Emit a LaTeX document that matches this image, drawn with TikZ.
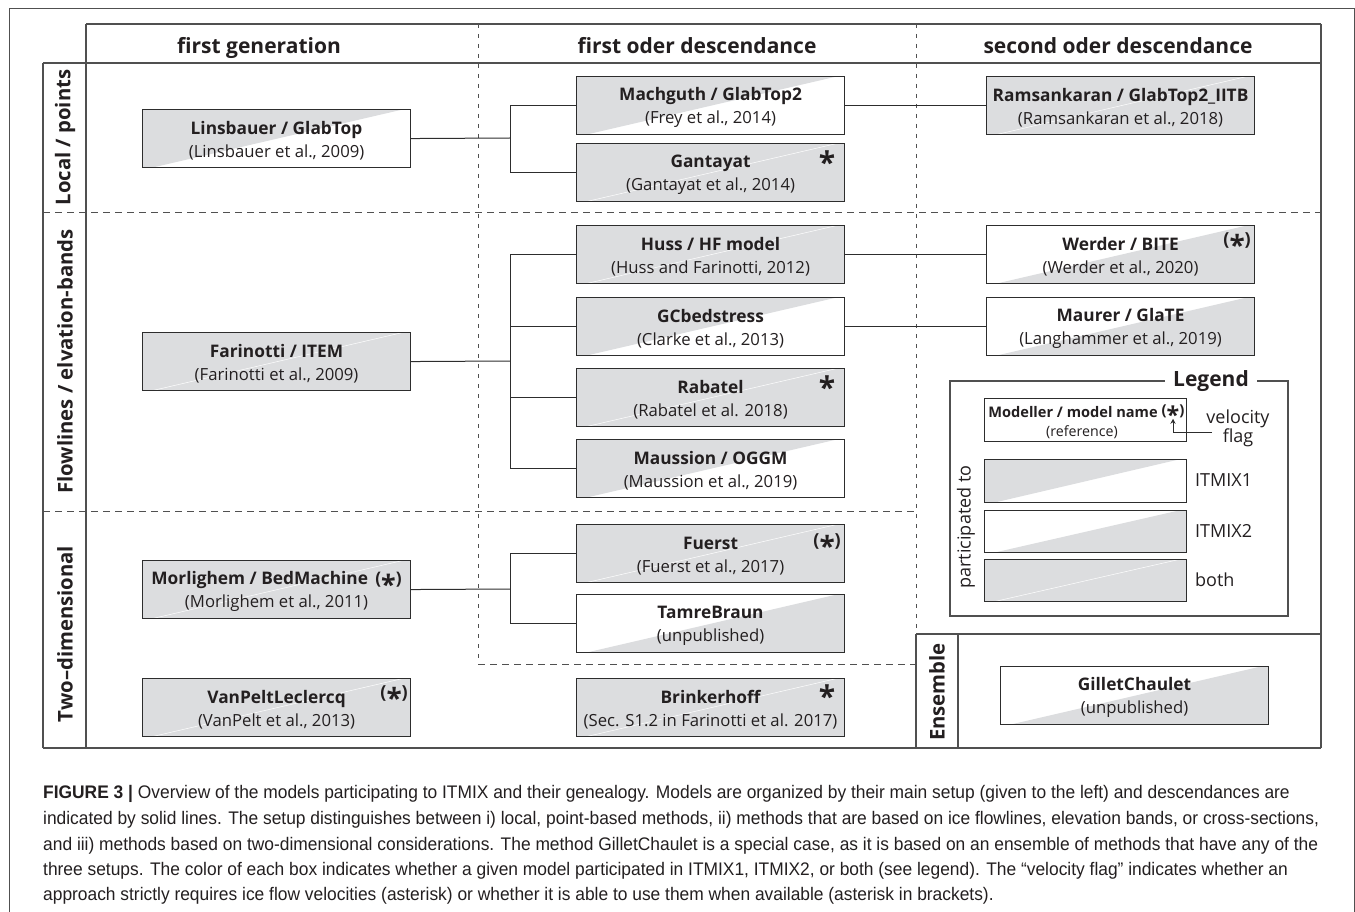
\documentclass[tikz,border=0pt]{standalone}
\usepackage{fontspec}
\setmainfont{Open Sans}
\newfontfamily\capfont[FakeStretch=0.955]{Liberation Sans}
\usetikzlibrary{arrows.meta}
\definecolor{boxgray}{RGB}{220,221,223}
\definecolor{tline}{RGB}{80,80,80}
\definecolor{bline}{RGB}{45,45,45}
\definecolor{ink}{RGB}{35,31,32}
\tikzset{
  mbox/.style={draw=bline, line width=1.1pt, minimum width=268pt, minimum height=58pt,
    inner sep=0pt, align=center, anchor=north west, text=ink,
    font=\fontsize{16.7}{23}\selectfont},
  lbox/.style={draw=bline, line width=1.1pt, minimum width=202pt, inner sep=0pt, anchor=north west},
  itmixA/.style={path picture={\fill[boxgray] ([xshift=10pt]path picture bounding box.south west) -- ([xshift=-8pt]path picture bounding box.north east) -- (path picture bounding box.north west) -- (path picture bounding box.south west) -- cycle;}},
  itmixB/.style={path picture={\fill[boxgray] ([xshift=10pt]path picture bounding box.south west) -- (path picture bounding box.south east) -- (path picture bounding box.north east) -- ([xshift=-8pt]path picture bounding box.north east) -- cycle;}},
  itmixAB/.style={fill=boxgray, path picture={\draw[white, line width=0.5pt] ([xshift=10pt]path picture bounding box.south west) -- ([xshift=-8pt]path picture bounding box.north east);}},
  tab/.style={draw=tline, line width=1.1pt},
  tabdash/.style={draw=tline, line width=0.9pt, dash pattern=on 7pt off 5pt},
  tabvdash/.style={draw=tline, line width=0.9pt, dash pattern=on 4pt off 6pt},
  conn/.style={draw=bline, line width=1pt},
  head/.style={font=\bfseries\fontsize{21}{24}\selectfont, text=ink, anchor=base},
  rowlab/.style={font=\bfseries\fontsize{20.3}{24}\selectfont, text=ink, rotate=90},
  ast/.style={font=\bfseries\fontsize{30}{30}\selectfont, text=ink, inner sep=0pt},
  past/.style={font=\bfseries\fontsize{18}{20}\selectfont, text=ink, inner sep=0pt},
  legtxt/.style={font=\fontsize{18}{17}\selectfont, text=ink, anchor=west, inner sep=0pt},
  capline/.style={font=\capfont\fontsize{18.2}{20}\selectfont, text=ink, anchor=base west, inner sep=0pt}
}
\newcommand{\pa}{(\smash{\raisebox{-0.58em}{\scalebox{1.55}{*}}})}
\newcommand{\bigast}{\raisebox{0pt}[0.76em][-0.43em]{*}}
\newcommand{\ttl}[1]{{\bfseries\fontsize{17.3}{23}\selectfont\rule{0pt}{17.2pt}#1}}
\begin{document}
\begin{tikzpicture}[x=1pt,y=-1pt]
\useasboundingbox (0,0) rectangle (1355,912);
% outer frame
\draw[draw=tline, line width=0.9pt] (9,912) -- (9,8) -- (1354,8) -- (1354,912);

% table lines
\draw[tab] (86,24) -- (1321,24);
\draw[tab] (86,24) -- (86,748);
\draw[tab] (43,63) -- (1321,63);
\draw[tab] (43,63) -- (43,748);
\draw[tab] (1321,24) -- (1321,748);
\draw[tab] (43,748) -- (1321,748);
\draw[tabdash] (43,212) -- (1321,212);
\draw[tabdash] (43,511) -- (916,511);
\draw[tabvdash] (478,24) -- (478,664);
\draw[tabdash] (478,664) -- (916,664);
\draw[tabvdash] (916,24) -- (916,634);
\draw[tab] (916,634) -- (1321,634);
\draw[tab] (916,634) -- (916,748);
\draw[tab] (958,634) -- (958,748);

% headers
\node[head] (h1) at (259,54) {first generation};
\node[head] (h2) at (697,54) {first oder descendance};
\node[head] (h3) at (1118,54) {second oder descendance};

% row labels
\node[rowlab] (r1) at (65,137.5) {Local / points};
\node[rowlab] (r2) at (65,361.5) {Flowlines / elvation-bands};
\node[rowlab] (r3) at (65,634) {Two–dimensional};
\node[rowlab] (r4) at (937,692) {Ensemble};

% boxes: first generation
\node[mbox, itmixA] (lins) at (142,109) {\ttl{Linsbauer / GlabTop}\\(Linsbauer et al., 2009)};
\node[mbox, itmixAB] (farin) at (142,332) {\ttl{Farinotti / ITEM}\\(Farinotti et al., 2009)};
\node[mbox, itmixAB] (morl) at (142,560) {\ttl{Morlighem / BedMachine\ \,\pa}\\(Morlighem et al., 2011)};
\node[mbox, itmixAB] (vanp) at (142,678) {\ttl{VanPeltLeclercq}\\(VanPelt et al., 2013)};

% first order
\node[mbox, itmixA] (mach) at (576,76) {\ttl{Machguth / GlabTop2}\\(Frey et al., 2014)};
\node[mbox, itmixAB] (gant) at (576,143) {\ttl{Gantayat}\\(Gantayat et al., 2014)};
\node[mbox, itmixAB] (huss) at (576,225) {\ttl{Huss / HF model}\\(Huss and Farinotti, 2012)};
\node[mbox, itmixA] (gcbed) at (576,297) {\ttl{GCbedstress}\\(Clarke et al., 2013)};
\node[mbox, itmixAB] (rabat) at (576,368) {\ttl{Rabatel}\\(Rabatel et al. 2018)};
\node[mbox, itmixA] (mauss) at (576,439) {\ttl{Maussion / OGGM}\\(Maussion et al., 2019)};
\node[mbox, itmixAB] (fuerst) at (576,524) {\ttl{Fuerst}\\(Fuerst et al., 2017)};
\node[mbox, itmixB] (tamre) at (576,594) {\ttl{TamreBraun}\\(unpublished)};
\node[mbox, itmixAB] (brink) at (576,678) {\ttl{Brinkerhoff}\\(Sec. S1.2 in Farinotti et al. 2017)};

% second order
\node[mbox, itmixAB] (rams) at (986,76) {\ttl{Ramsankaran / GlabTop2\_IITB}\\(Ramsankaran et al., 2018)};
\node[mbox, itmixB] (werder) at (986,225) {\ttl{Werder / BITE}\\(Werder et al., 2020)};
\node[mbox, itmixB] (maurer) at (986,297) {\ttl{Maurer / GlaTE}\\(Langhammer et al., 2019)};
\node[mbox, itmixB] (gillet) at (1000,666) {\ttl{GilletChaulet}\\(unpublished)};

% velocity flags
\node[ast] (a1) at ([xshift=-18pt,yshift=-19pt]gant.north east) {\bigast};
\node[ast] (a2) at ([xshift=-18pt,yshift=-19pt]rabat.north east) {\bigast};
\node[ast] (a3) at ([xshift=-18pt,yshift=-18pt]brink.north east) {\bigast};
\node[past] (p1) at ([xshift=-18pt,yshift=-17pt]fuerst.north east) {\pa};
\node[past] (p2) at ([xshift=-18pt,yshift=-15pt]werder.north east) {\pa};
\node[past] (p3) at ([xshift=-17pt,yshift=-15pt]vanp.north east) {\pa};

% connectors
\coordinate (b1) at (510,138);
\coordinate (b2) at (510,361);
\coordinate (b3) at (510,589);
\draw[conn] (lins.east) -- (b1);
\draw[conn] (b1) |- (mach.west);
\draw[conn] (b1) |- (gant.west);
\draw[conn] (farin.east) -- (b2);
\draw[conn] (b2) |- (huss.west);
\draw[conn] (b2) |- (gcbed.west);
\draw[conn] (b2) |- (rabat.west);
\draw[conn] (b2) |- (mauss.west);
\draw[conn] (morl.east) -- (b3);
\draw[conn] (b3) |- (fuerst.west);
\draw[conn] (b3) |- (tamre.west);
\draw[conn] (mach.east) -- (rams.west);
\draw[conn] (huss.east) -- (werder.west);
\draw[conn] (gcbed.east) -- (maurer.west);

% legend
\draw[tab] (950,381) rectangle (1288,616);
\node[font=\bfseries\fontsize{21}{24}\selectfont, text=ink, fill=white, inner xsep=8pt, inner ysep=0pt] (legt) at (1211,381) {Legend};
\node[lbox, minimum height=43pt, fill=white] (lex) at (984,398) {};
\node[font=\bfseries\fontsize{14.6}{16}\selectfont, text=ink, inner sep=0pt] (lexa) at (1073,412) {Modeller / model name};
\node[font=\fontsize{14.2}{16}\selectfont, text=ink, inner sep=0pt] (lexb) at (1082,432) {(reference)};
\node[font=\bfseries\fontsize{15}{16}\selectfont, text=ink, inner sep=0pt] (legast) at (1173,411) {\pa};
\node[font=\fontsize{18}{17}\selectfont, text=ink, align=center, inner sep=0pt] (vflag) at (1238,428) {velocity\\flag};
\coordinate (arrS) at (1212,432);
\draw[conn, line width=0.9pt, -{Stealth[length=5pt,width=5pt]}] (arrS) -| ([yshift=-1pt]legast.south);
\node[lbox, minimum height=43pt, itmixA] (l1) at (984,459) {};
\node[lbox, minimum height=42pt, itmixB] (l2) at (984,510) {};
\node[lbox, minimum height=42pt, itmixAB] (l3) at (984,559) {};
\node[legtxt] (t1) at (1195,480) {ITMIX1};
\node[legtxt] (t2) at (1195,531) {ITMIX2};
\node[legtxt] (t3) at (1195,580) {both};
\node[font=\fontsize{18}{20}\selectfont, text=ink, rotate=90] (part) at (966,527) {participated to};

% caption
\node[capline] (c1) at (43,798) {{\bfseries FIGURE 3 |} Overview of the models participating to ITMIX and their genealogy. Models are organized by their main setup (given to the left) and descendances are};
\node[capline] (c2) at (43,824) {indicated by solid lines. The setup distinguishes between i) local, point-based methods, ii) methods that are based on ice flowlines, elevation bands, or cross-sections,};
\node[capline] (c3) at (43,850) {and iii) methods based on two-dimensional considerations. The method GilletChaulet is a special case, as it is based on an ensemble of methods that have any of the};
\node[capline] (c4) at (43,875) {three setups. The color of each box indicates whether a given model participated in ITMIX1, ITMIX2, or both (see legend). The “velocity flag” indicates whether an};
\node[capline] (c5) at (43,900) {approach strictly requires ice flow velocities (asterisk) or whether it is able to use them when available (asterisk in brackets).};
\end{tikzpicture}
\end{document}
